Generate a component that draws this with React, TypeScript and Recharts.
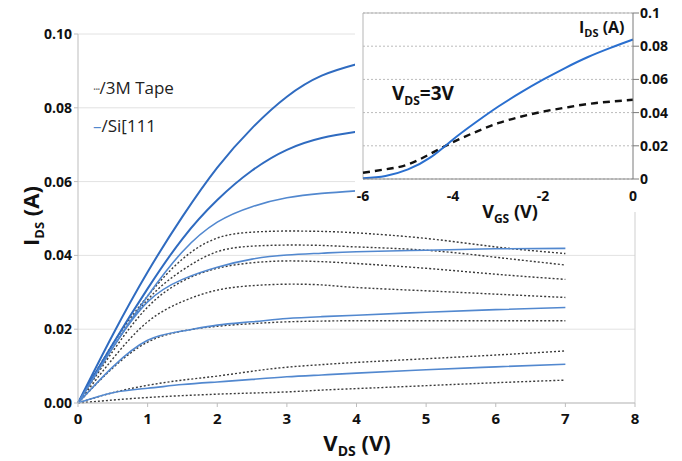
import {
  CartesianGrid,
  Line,
  LineChart,
  ReferenceLine,
  XAxis,
  YAxis,
} from "recharts";

// output curves, I_DS vs V_DS
const vds = [0, 0.5, 1, 1.5, 2, 2.5, 3, 3.5, 4, 5, 6, 7];
const si1 = [0, 0.0185, 0.0355, 0.0505, 0.0638, 0.0745, 0.083, 0.0887, 0.0918, null, null, null];
const si2 = [0, 0.016, 0.031, 0.0445, 0.055, 0.063, 0.0686, 0.0718, 0.0735, null, null, null];
const si3 = [0, 0.015, 0.029, 0.041, 0.049, 0.0532, 0.0556, 0.0568, 0.0575, null, null, null];
const si4 = [0, 0.015, 0.0274, 0.0335, 0.0368, 0.039, 0.0401, 0.0406, 0.041, 0.0414, 0.0418, 0.0419];
const si5 = [0, 0.0098, 0.017, 0.0195, 0.0211, 0.022, 0.0229, 0.0234, 0.0238, 0.0246, 0.0253, 0.0259];
const si6 = [0, 0.0028, 0.004, 0.005, 0.0057, 0.0064, 0.0071, 0.0076, 0.0081, 0.009, 0.0098, 0.0105];

const tape1 = [0, 0.016, 0.029, 0.039, 0.0447, 0.0463, 0.0466, 0.0465, 0.0461, 0.0446, 0.0423, 0.0405];
const tape2 = [0, 0.015, 0.028, 0.036, 0.041, 0.0425, 0.0428, 0.0427, 0.0423, 0.0414, 0.0395, 0.0374];
const tape3 = [0, 0.014, 0.026, 0.033, 0.0365, 0.038, 0.0385, 0.0383, 0.0378, 0.0365, 0.0349, 0.0335];
const tape4 = [0, 0.012, 0.022, 0.0275, 0.0306, 0.0318, 0.0322, 0.032, 0.0313, 0.0304, 0.0295, 0.0286];
const tape5 = [0, 0.0095, 0.0165, 0.0195, 0.0208, 0.0215, 0.022, 0.0222, 0.0223, 0.0223, 0.0223, 0.0223];
const tape6 = [0, 0.0028, 0.0048, 0.0062, 0.0073, 0.0086, 0.0097, 0.0104, 0.011, 0.012, 0.013, 0.0141];
const tape7 = [0, 0.0008, 0.0015, 0.002, 0.0024, 0.0027, 0.003, 0.0035, 0.0039, 0.0047, 0.0055, 0.0062];

const vdsTicks = [0, 1, 2, 3, 4, 5, 6, 7, 8];
const idsTicks = [0, 0.02, 0.04, 0.06, 0.08, 0.1];

// transfer curves at V_DS = 3V (inset)
const vgs = [-6, -5.5, -5, -4.5, -4, -3.5, -3, -2.5, -2, -1.5, -1, -0.5, 0];
const siTransfer = [0.0004, 0.0018, 0.0058, 0.013, 0.0238, 0.034, 0.0435, 0.052, 0.0598, 0.067, 0.0735, 0.079, 0.084];
const tapeTransfer = [0.0038, 0.0058, 0.0088, 0.0152, 0.0222, 0.0283, 0.0336, 0.0375, 0.0406, 0.043, 0.0452, 0.0466, 0.0477];
const vgsTicks = [-6, -4, -2, 0];

const siSeries = [si1, si2, si3, si4, si5, si6];
const tapeSeries = [tape1, tape2, tape3, tape4, tape5, tape6, tape7];

const FONT = "'Open Sans', 'Liberation Sans', sans-serif";
const DARK_BLUE = "#2f6bc0";
const LIGHT_BLUE = "#5288cf";

const outputRows = vds.map((v, i) => {
  const row: Record<string, number | null> = { vds: v };
  siSeries.forEach((s, k) => (row[`si${k + 1}`] = s[i]));
  tapeSeries.forEach((s, k) => (row[`tape${k + 1}`] = s[i]));
  return row;
});

const transferRows = vgs.map((v, i) => ({
  vgs: v,
  si: siTransfer[i],
  tape: tapeTransfer[i],
}));

const tickStyle = { fill: "#111", fontSize: 14, fontWeight: 700, fontFamily: FONT };

const fmtInset = (v: number) => (v === 0 ? "0" : v === 0.1 ? "0.1" : v.toFixed(2));

export default function App() {
  return (
    <div style={{ position: "absolute", left: 0, top: 0, width: 682, height: 461, background: "#fff", fontFamily: FONT }}>
      <LineChart width={682} height={461} data={outputRows} margin={{ top: 34, right: 47, left: 18, bottom: 28 }}>
        <CartesianGrid vertical={false} stroke="#e2e2e2" />
        <XAxis
          dataKey="vds"
          type="number"
          domain={[0, 8]}
          ticks={vdsTicks}
          stroke="#bdbdbd"
          tickSize={4}
          tickMargin={6}
          height={30}
          tick={{ ...tickStyle, fontSize: 15 }}
        />
        <YAxis
          type="number"
          domain={[0, 0.1]}
          ticks={idsTicks}
          stroke="#bdbdbd"
          tickSize={4}
          tickMargin={2}
          width={60}
          tickFormatter={(v: number) => v.toFixed(2)}
          tick={tickStyle}
        />
        <ReferenceLine x={8} stroke="#cfcfcf" />
        {tapeSeries.map((_, k) => (
          <Line
            key={`tape${k}`}
            dataKey={`tape${k + 1}`}
            type="natural"
            stroke="#3a3a3a"
            strokeWidth={1.4}
            strokeDasharray="2 2"
            dot={false}
            isAnimationActive={false}
          />
        ))}
        {siSeries.map((_, k) => (
          <Line
            key={`si${k}`}
            dataKey={`si${k + 1}`}
            type="natural"
            stroke={k < 2 ? DARK_BLUE : LIGHT_BLUE}
            strokeWidth={k < 2 ? 2 : 1.6}
            dot={false}
            isAnimationActive={false}
          />
        ))}
      </LineChart>

      {/* legend */}
      <div style={{ position: "absolute", left: 93, top: 70, fontSize: 17, color: "#222", lineHeight: "36px" }}>
        <div>
          <span style={{ color: "#666", fontSize: 12, letterSpacing: -1 }}>···</span>/3M Tape
        </div>
        <div>
          <span style={{ color: LIGHT_BLUE }}>–</span>/Si[111
        </div>
      </div>

      {/* axis titles */}
      <div
        style={{
          position: "absolute",
          left: 30,
          top: 216,
          transform: "translate(-50%, -50%) rotate(-90deg)",
          fontSize: 22,
          fontWeight: 700,
          color: "#111",
          whiteSpace: "nowrap",
          lineHeight: "24px",
        }}
      >
        I<sub style={{ fontSize: 13, lineHeight: 0 }}>DS</sub> (A)
      </div>
      <div
        style={{
          position: "absolute",
          left: 357,
          top: 442,
          transform: "translate(-50%, -50%)",
          fontSize: 22,
          fontWeight: 700,
          color: "#111",
          whiteSpace: "nowrap",
          lineHeight: "24px",
        }}
      >
        V<sub style={{ fontSize: 14, lineHeight: 0 }}>DS</sub> (V)
      </div>

      {/* inset */}
      <div style={{ position: "absolute", left: 355, top: 0, width: 327, height: 212, background: "#fff" }}>
        <LineChart width={327} height={212} data={transferRows} margin={{ top: 13, right: 4, left: 8, bottom: 0 }}>
          <CartesianGrid vertical={false} stroke="#bbb" strokeDasharray="2 2" />
          <XAxis
            dataKey="vgs"
            type="number"
            domain={[-6, 0]}
            ticks={vgsTicks}
            stroke="#8a8a8a"
            tickLine={false}
            tickMargin={6}
            height={33}
            tick={tickStyle}
          />
          <YAxis
            orientation="right"
            type="number"
            domain={[0, 0.1]}
            ticks={idsTicks}
            stroke="#7a7a7a"
            tickSize={6}
            tickMargin={1}
            width={45}
            tickFormatter={fmtInset}
            tick={tickStyle}
          />
          <ReferenceLine y={0.1} stroke="#b5b5b5" />
          <ReferenceLine x={-6} stroke="#b5b5b5" />
          <Line dataKey="tape" type="natural" stroke="#111" strokeWidth={2.4} strokeDasharray="7 5" dot={false} isAnimationActive={false} />
          <Line dataKey="si" type="natural" stroke="#2a6fcf" strokeWidth={2} dot={false} isAnimationActive={false} />
        </LineChart>
        <div style={{ position: "absolute", left: 224, top: 17, fontSize: 16, fontWeight: 700, color: "#111", whiteSpace: "nowrap", lineHeight: "20px" }}>
          I<sub style={{ fontSize: 11, lineHeight: 0 }}>DS</sub> (A)
        </div>
        <div style={{ position: "absolute", left: 37, top: 82, fontSize: 19, fontWeight: 700, color: "#111", whiteSpace: "nowrap", lineHeight: "22px" }}>
          V<sub style={{ fontSize: 12, lineHeight: 0 }}>DS</sub>=3V
        </div>
      </div>
      <div
        style={{
          position: "absolute",
          left: 510,
          top: 211,
          transform: "translate(-50%, -50%)",
          fontSize: 18,
          fontWeight: 700,
          color: "#111",
          whiteSpace: "nowrap",
          lineHeight: "20px",
        }}
      >
        V<sub style={{ fontSize: 12, lineHeight: 0 }}>GS</sub> (V)
      </div>
    </div>
  );
}
